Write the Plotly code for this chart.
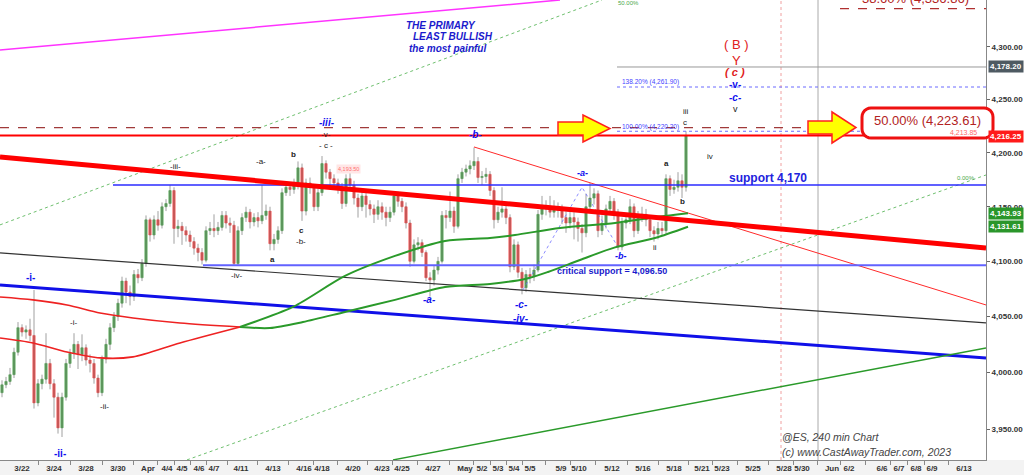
import math
import plotly.graph_objects as go

# ---------------- data ----------------
first_open = 3982
closes = [3989, 3992, 3998, 4018, 4040, 4036, 4038, 4033, 3973, 3990,
          3994, 4008, 3990, 3978, 3951, 3978, 4008, 4017, 4025, 4016,
          4022, 4011, 4008, 3995, 3982, 4012, 4025, 4040, 4050, 4062,
          4082, 4072, 4068, 4088, 4085, 4098, 4138, 4124, 4138, 4133,
          4150, 4153, 4165, 4130, 4132, 4128, 4124, 4118, 4112, 4108,
          4101, 4128, 4130, 4128, 4131, 4142, 4135, 4133, 4098, 4128,
          4140, 4145, 4136, 4140, 4137, 4142, 4146, 4116, 4120, 4128,
          4163, 4168, 4166, 4170, 4186, 4146, 4172, 4168, 4150, 4163,
          4190, 4182, 4176, 4172, 4168, 4153, 4176, 4170, 4158, 4150,
          4160, 4152, 4148, 4143, 4150, 4145, 4140, 4145, 4160, 4155,
          4150, 4135, 4100, 4115, 4117, 4108, 4085, 4083, 4092, 4100,
          4142, 4140, 4146, 4132, 4176, 4182, 4185, 4188, 4192, 4177,
          4178, 4180, 4165, 4138, 4145, 4148, 4140, 4095, 4115, 4090,
          4076, 4088, 4086, 4092, 4143, 4148, 4150, 4145, 4150, 4147,
          4140, 4135, 4140, 4136, 4130, 4126, 4150, 4158, 4162, 4128,
          4135, 4148, 4155, 4145, 4113, 4135, 4138, 4150, 4128, 4140,
          4143, 4138, 4128, 4125, 4130, 4128, 4176, 4166, 4168, 4174,
          4168, 4216.25]
highs = [3993, 3996, 4004, 4022, 4045, 4043, 4042, 4048, 4074, 3994,
         3998, 4035, 4012, 3994, 3982, 3982, 4012, 4021, 4035, 4028,
         4034, 4025, 4016, 4012, 3998, 4015, 4030, 4044, 4054, 4066,
         4086, 4085, 4078, 4092, 4093, 4102, 4142, 4140, 4142, 4146,
         4154, 4157, 4170, 4168, 4138, 4136, 4132, 4128, 4122, 4116,
         4112, 4132, 4136, 4143, 4136, 4146, 4146, 4140, 4137, 4132,
         4144, 4150, 4148, 4144, 4145, 4170, 4152, 4150, 4125, 4132,
         4167, 4172, 4172, 4176, 4192, 4190, 4176, 4177, 4171, 4167,
         4197, 4193, 4185, 4180, 4176, 4172, 4180, 4182, 4174, 4162,
         4165, 4164, 4156, 4152, 4156, 4154, 4150, 4150, 4164, 4164,
         4158, 4154, 4138, 4120, 4122, 4120, 4110, 4090, 4096, 4104,
         4146, 4147, 4164, 4150, 4180, 4186, 4189, 4193, 4205, 4196,
         4183, 4186, 4183, 4168, 4150, 4168, 4152, 4143, 4120, 4118,
         4094, 4092, 4094, 4097, 4147, 4160, 4156, 4160, 4156, 4154,
         4152, 4146, 4146, 4145, 4140, 4134, 4162, 4172, 4167, 4165,
         4142, 4152, 4160, 4158, 4148, 4140, 4143, 4157, 4153, 4146,
         4150, 4148, 4142, 4132, 4136, 4136, 4180, 4179, 4175, 4182,
         4180, 4220.2]
lows = [3978, 3986, 3989, 3995, 4015, 4032, 4030, 4028, 3968, 3970,
        3985, 3990, 3985, 3960, 3946, 3943, 3975, 4004, 4012, 4003,
        4010, 4006, 4000, 3990, 3978, 3979, 4008, 4020, 4036, 4046,
        4058, 4062, 4060, 4064, 4080, 4082, 4095, 4118, 4120, 4128,
        4130, 4146, 4150, 4116, 4122, 4115, 4118, 4113, 4106, 4100,
        4097, 4099, 4124, 4122, 4124, 4128, 4130, 4126, 4096, 4096,
        4124, 4136, 4130, 4132, 4131, 4134, 4138, 4110, 4110, 4116,
        4125, 4160, 4160, 4162, 4166, 4137, 4142, 4162, 4146, 4146,
        4160, 4176, 4170, 4166, 4162, 4148, 4150, 4165, 4152, 4140,
        4146, 4140, 4142, 4135, 4138, 4138, 4132, 4136, 4142, 4150,
        4145, 4130, 4095, 4098, 4110, 4104, 4082, 4068, 4078, 4088,
        4098, 4130, 4136, 4126, 4130, 4172, 4178, 4180, 4184, 4172,
        4170, 4172, 4160, 4130, 4135, 4140, 4134, 4090, 4092, 4085,
        4070, 4072, 4080, 4082, 4090, 4138, 4142, 4140, 4140, 4140,
        4134, 4126, 4130, 4120, 4118, 4108, 4122, 4146, 4152, 4122,
        4124, 4130, 4144, 4138, 4110, 4110, 4130, 4134, 4122, 4125,
        4136, 4132, 4122, 4118, 4120, 4124, 4125, 4160, 4162, 4164,
        4158, 4164]

# moving averages (x in bar units, value in points)
ma_fast_x = [-0.5, 7.75, 16.25, 24.5, 32.75, 44.5, 59.5, 72.75, 85.75, 98.25,
             110.75, 122, 128.25, 139.5, 153.25, 162, 171.5]
ma_fast_y = [4030.7, 4026.3, 4018.2, 4012.9, 4013.8, 4026.3, 4040.6, 4058.6, 4086.7, 4104.9,
             4118.6, 4121.3, 4124.0, 4130.5, 4135.1, 4139.7, 4143.93]
ma_slow_x = [-0.5, 7.75, 16.25, 24.5, 32.75, 44.5, 59.5, 67, 75.25, 85.75,
             98.25, 110.75, 122, 130.75, 136.5, 144.5, 153.25, 163.25, 171.5]
ma_slow_y = [4067.6, 4065.0, 4060.4, 4053.2, 4048.7, 4044.2, 4040.6, 4039.7, 4045.1, 4054.1,
             4065.0, 4076.7, 4079.4, 4083.9, 4090.3, 4101.2, 4112.7, 4121.3, 4131.61]
ma_cross_index = 6

# trend lines: (x0, x1), (y0, y1)
trend_red = ([-0.5, 246], [4196.2, 4112.1])
trend_black = ([-0.5, 246], [4107.6, 4044.2])
trend_blue = ([-0.5, 246], [4078.5, 4012.9])
trend_thin_red = ([118, 246], [4205.5, 4060.4])
trend_green = ([97.75, 246], [3923.0, 4021.8])
chan_green_upper = ([-0.5, 150], [4133.3, 4345.1])
chan_green_lower = ([46.25, 246], [3923.0, 4179.4])
trend_magenta = ([-0.5, 139.5], [4297.1, 4345.1])
wave_path = ([130.25, 145, 154], [4074, 4168, 4113])

# horizontal levels: value, x start
lvl_last = (4216.25, -0.5)
lvl_fib50 = (4223.61, -0.5)
lvl_fib100 = (4220.20, 153.75)
lvl_fib138 = (4261.90, 153.75)
lvl_support = (4170.0, 27.75)
lvl_critical = (4096.50, 50.25)
lvl_top = (4336.86, 209.5)
lvl_gray = (4280.9, 153.75)

# boxes: x0, x1, low, high
box_a = (102.75, 116.75, 4046.9, 4088.9)
box_critical = (134.75, 180.0, 4086.7, 4096.6)
box_target = (177.25, 199.25, 4223.61, 4261.90)

vline_pink = 194.75
vline_gray = 204.0

tick_labels = ["3/22", "3/24", "3/28", "3/30", "Apr", "4/4", "4/5", "4/6", "4/7", "4/11",
               "4/13", "4/16", "4/18", "4/20", "4/23", "4/25", "4/27", "May", "5/2", "5/3",
               "5/4", "5/5", "5/9", "5/10", "5/12", "5/16", "5/18", "5/21", "5/23", "5/25",
               "5/28", "5/30", "Jun", "6/2", "6/6", "6/7", "6/8", "6/9", "6/13"]
tick_pos = [5, 13, 21, 29, 36.5, 41.25, 45, 49.25, 53, 59.75,
            67.75, 75.5, 80, 87.75, 95, 100, 107.75, 115.75, 120, 124,
            128, 132, 139.75, 144.25, 152.5, 160.25, 168, 175, 180, 187.75,
            195.5, 200, 207.5, 211.75, 220, 224.25, 228.5, 232.5, 240.5]
price_ticks = [3950, 4000, 4050, 4100, 4150, 4200, 4250, 4300]
y_range = [3922.9, 4345.1]
x_range = [-0.5, 246]

# ---------------- figure ----------------
FONT = "Liberation Sans, Arial, sans-serif"
W, H = 1024, 475
ML, MR, MT, MB = 0, 38, 0, 15
PW, PH = W - ML - MR, H - MT - MB
lg = math.log10
GREEN = "#1a8c1a"
RED = "#f01010"
BLUE = "#1010ee"

n = len(closes)
xs = list(range(n))
opens = [first_open] + closes[:-1]
highs = [max(h, o, c) for h, o, c in zip(highs, opens, closes)]
lows = [min(l, o, c) for l, o, c in zip(lows, opens, closes)]

fig = go.Figure()

# wicks
wx, wy = [], []
for i in xs:
    wx += [i, i, None]
    wy += [lows[i], highs[i], None]
fig.add_trace(go.Scatter(x=wx, y=wy, mode="lines", line=dict(color="#a0a0a0", width=1), hoverinfo="skip"))

# bodies
fig.add_trace(go.Candlestick(
    x=xs, open=opens, close=closes,
    high=[max(o, c) for o, c in zip(opens, closes)],
    low=[min(o, c) for o, c in zip(opens, closes)],
    increasing=dict(line=dict(color=GREEN, width=0.6), fillcolor=GREEN),
    decreasing=dict(line=dict(color=RED, width=0.6), fillcolor=RED),
    whiskerwidth=0, hoverinfo="skip"))


def line(xy, color, width, dash="solid"):
    fig.add_trace(go.Scatter(x=xy[0], y=xy[1], mode="lines",
                             line=dict(color=color, width=width, dash=dash), hoverinfo="skip"))


def hline(lvl, color, width, dash="solid"):
    line(([lvl[1], x_range[1]], [lvl[0], lvl[0]]), color, width, dash)


line(chan_green_upper, "#6fc06f", 1, "dot")
line(chan_green_lower, "#6fc06f", 1, "dot")
line(trend_magenta, "#ff33ff", 1.5)
line(trend_black, "#333333", 1.2)
line(trend_blue, "#1010e8", 3)
line(trend_green, "#2a9a2a", 1.5)
line(trend_thin_red, "#ff2a2a", 1)
hline(lvl_gray, "#999999", 1)
hline(lvl_top, "#b03030", 1.2, "dash")
hline(lvl_fib138, "#6b6bff", 1, "dot")
hline(lvl_fib100, "#6b6bff", 1, "dot")
hline(lvl_fib50, "#a03a3a", 1.4, "dash")
hline(lvl_support, "#2b2bff", 1.5)
hline(lvl_critical, "#6262ff", 2)
line(wave_path, "#7070ff", 0.8, "dot")

# moving averages (red while below, green after the crossing)
c = ma_cross_index
fig.add_trace(go.Scatter(x=ma_slow_x[:c + 1], y=ma_slow_y[:c + 1], mode="lines",
                         line=dict(color="#ee2222", width=1.6, shape="spline", smoothing=0.8), hoverinfo="skip"))
fig.add_trace(go.Scatter(x=ma_fast_x[:c + 1], y=ma_fast_y[:c + 1], mode="lines",
                         line=dict(color="#ee2222", width=1.6, shape="spline", smoothing=0.8), hoverinfo="skip"))
fig.add_trace(go.Scatter(x=ma_slow_x[c:], y=ma_slow_y[c:], mode="lines",
                         line=dict(color="#2a9a2a", width=2, shape="spline", smoothing=0.8), hoverinfo="skip"))
fig.add_trace(go.Scatter(x=ma_fast_x[c:], y=ma_fast_y[c:], mode="lines",
                         line=dict(color="#2a9a2a", width=2, shape="spline", smoothing=0.8), hoverinfo="skip"))

line(trend_red, "#ff0000", 5)
hline(lvl_last, "#ff0000", 2)

shapes = []


def box(b, fill):
    shapes.append(dict(type="rect", xref="x", yref="y", x0=b[0], x1=b[1], y0=lg(b[2]), y1=lg(b[3]),
                       fillcolor=fill, line=dict(color="#ee5555", width=1, dash="dot"), layer="below"))


box(box_a, "#b2f2a8")
box(box_critical, "#b2f2a8")
box(box_target, "#ffb4b4")

shapes.append(dict(type="line", xref="x", yref="paper", x0=vline_pink, x1=vline_pink, y0=0, y1=1,
                   line=dict(color="#f0a0a0", width=1, dash="dot"), layer="below"))
shapes.append(dict(type="line", xref="x", yref="paper", x0=vline_gray, x1=vline_gray, y0=0, y1=1,
                   line=dict(color="#aaaaaa", width=1), layer="below"))
# bottom band
shapes.append(dict(type="rect", xref="paper", yref="paper", x0=-0.01, x1=W / PW, y0=-MB / PH, y1=0,
                   fillcolor="#f3f3f3", line=dict(width=0), layer="below"))


def pp(px, py):
    return px / PW, 1 - py / PH


def path(points):
    s = ""
    for k, (a, b) in enumerate(points):
        X, Y = pp(a, b)
        s += ("M" if k == 0 else "L") + f"{X:.5f},{Y:.5f} "
    return s + "Z"


for pts in ([(558, 122), (583, 122), (583, 115), (610, 128.5), (583, 142), (583, 135), (558, 135)],
            [(808, 121), (832, 121), (832, 112), (856, 127.5), (832, 143), (832, 134), (808, 134)]):
    shapes.append(dict(type="path", xref="paper", yref="paper", path=path(pts),
                       fillcolor="#ffff00", line=dict(color="#ff2020", width=1.5)))

# rounded box
x0, x1, y0, y1, r = 862, 993, 108, 138, 9
pts = []
for cx, cy, a0 in ((x1 - r, y0 + r, -90), (x1 - r, y1 - r, 0), (x0 + r, y1 - r, 90), (x0 + r, y0 + r, 180)):
    for k in range(7):
        a = math.radians(a0 + k * 15)
        pts.append((cx + r * math.cos(a), cy + r * math.sin(a)))
shapes.append(dict(type="path", xref="paper", yref="paper", path=path(pts),
                   fillcolor="white", line=dict(color="#ee1111", width=3)))

anns = []


def ann(text, px, py, color, size, bold=False, italic=False, xanchor="center", bg=None):
    t = text
    if italic:
        t = f"<i>{t}</i>"
    if bold:
        t = f"<b>{t}</b>"
    X, Y = pp(px, py)
    d = dict(text=t, x=X, y=Y, xref="paper", yref="paper", showarrow=False, xanchor=xanchor,
             yanchor="middle", font=dict(family=FONT, size=size, color=color))
    if bg:
        d.update(bgcolor=bg, borderpad=1)
    anns.append(d)


DARK = "#222222"
ann("THE PRIMARY", 441, 25, "#1a1acc", 10, True, True)
ann("LEAST BULLISH", 453, 37, "#1a1acc", 10, True, True)
ann("the most painful", 447, 49, "#1a1acc", 10, True, True)
ann("( B )", 736, 45, "#e02020", 13)
ann("Y", 736, 60, "#e02020", 13)
ann("( c )", 735, 72, "#e02020", 11, True, True)
ann("-v-", 735, 84, BLUE, 10, True)
ann("-c-", 735, 97, BLUE, 10, True, True)
ann("v", 735, 109, DARK, 9)
ann("iii", 686, 111, DARK, 8)
ann("c", 685, 122, DARK, 8)
ann("iv", 710, 156, DARK, 8)
ann("a", 666, 164, DARK, 8, True)
ann("b", 682, 201, DARK, 8, True)
ann("ii", 655, 247, DARK, 8)
ann("-b-", 475, 134, BLUE, 10, True, True)
ann("-a-", 582, 173, BLUE, 9, True, True)
ann("-b-", 621, 256, BLUE, 9, True, True)
ann("-c-", 521, 304, BLUE, 10, True, True)
ann("-iv-", 521, 318, BLUE, 10, True, True)
ann("-a-", 429, 299, BLUE, 10, True, True)
ann("critical support = 4,096.50", 612, 271, "#1a1acc", 9, True)
ann("support 4,170", 768, 178, "#2222dd", 12, True)
ann("-iii-", 327, 122, BLUE, 10, True, True)
ann("-v-", 326, 134, DARK, 8)
ann("- c -", 326, 145, DARK, 8)
ann("b", 293, 154, DARK, 8, True)
ann("-a-", 261, 162, DARK, 8)
ann("-iii-", 175, 166, DARK, 8)
ann("c", 301, 230, DARK, 8, True)
ann("-b-", 301, 241, DARK, 8)
ann("a", 272, 259, DARK, 8, True)
ann("-iv-", 236, 275, DARK, 8)
ann("-i-", 30, 277, BLUE, 10, True)
ann("-i-", 73, 322, DARK, 8)
ann("-ii-", 104, 406, DARK, 8)
ann("-ii-", 60, 453, BLUE, 10, True)
ann("138.20% (4,261.90)", 650, 82, "#4444ff", 6.5)
ann("100.00% (4,220.20)", 650, 127, "#4444ff", 6.5)
ann("4,193.50", 348, 169, "#ff7070", 5.5, bg="#ffe6e6")
ann("50.00%", 628, 3, "#4aa84a", 6)
ann("0.00%", 966, 178, "#4aa84a", 6)
ann("4,213.85", 963, 132, "#ff6a6a", 7)
ann("50.00% (4,223.61)", 927, 121, "#b22222", 13)
ann("38.60% (4,336.86)", 915, -1, "#b22222", 13)
ann("@ES, 240 min Chart", 780, 437, "#444444", 10.5, False, True, "left")
ann("(c) www.CastAwayTrader.com, 2023", 780, 452, "#444444", 10.5, False, True, "left")

for txt, py, col in (("4,178.20", 67, "#4e5a62"), ("4,216.25", 136, "#ff1a1a"),
                     ("4,143.93", 213, "#2a962a"), ("4,131.61", 227, "#2a962a")):
    X, Y = pp(PW + 2, py)
    anns.append(dict(text=f"<b>{txt}</b>", x=X, y=Y, xref="paper", yref="paper", showarrow=False,
                     xanchor="left", yanchor="middle", bgcolor=col, borderpad=1,
                     font=dict(family=FONT, size=8, color="white")))

bounds = [(a + b) / 2 for a, b in zip(tick_pos[:-1], tick_pos[1:])]

fig.update_layout(
    width=W, height=H, margin=dict(l=ML, r=MR, t=MT, b=MB),
    paper_bgcolor="white", plot_bgcolor="white", showlegend=False, hovermode=False,
    shapes=shapes, annotations=anns, boxgap=0.25,
    xaxis=dict(range=x_range, type="linear", showgrid=False, zeroline=False, rangeslider=dict(visible=False),
               tickmode="array", tickvals=tick_pos, ticktext=tick_labels, ticks="", tickangle=0,
               tickfont=dict(family=FONT, size=8, color="#333333", weight="bold"),
               showline=True, linecolor="#888888", linewidth=1,
               minor=dict(tickmode="array", tickvals=bounds, ticks="outside", ticklen=4,
                          tickcolor="#888888")),
    yaxis=dict(type="log", range=[lg(y_range[0]), lg(y_range[1])], side="right", showgrid=False,
               zeroline=False, tickmode="array", tickvals=price_ticks,
               ticktext=[f"{v:,.2f}" for v in price_ticks], ticks="outside", ticklen=3,
               tickcolor="#666666", tickfont=dict(family=FONT, size=8, color="#333333", weight="bold"),
               showline=True, linecolor="#888888", linewidth=1),
)

fig.write_html("out.html", config={"displayModeBar": False},
               post_script="document.body.style.margin='0';")
